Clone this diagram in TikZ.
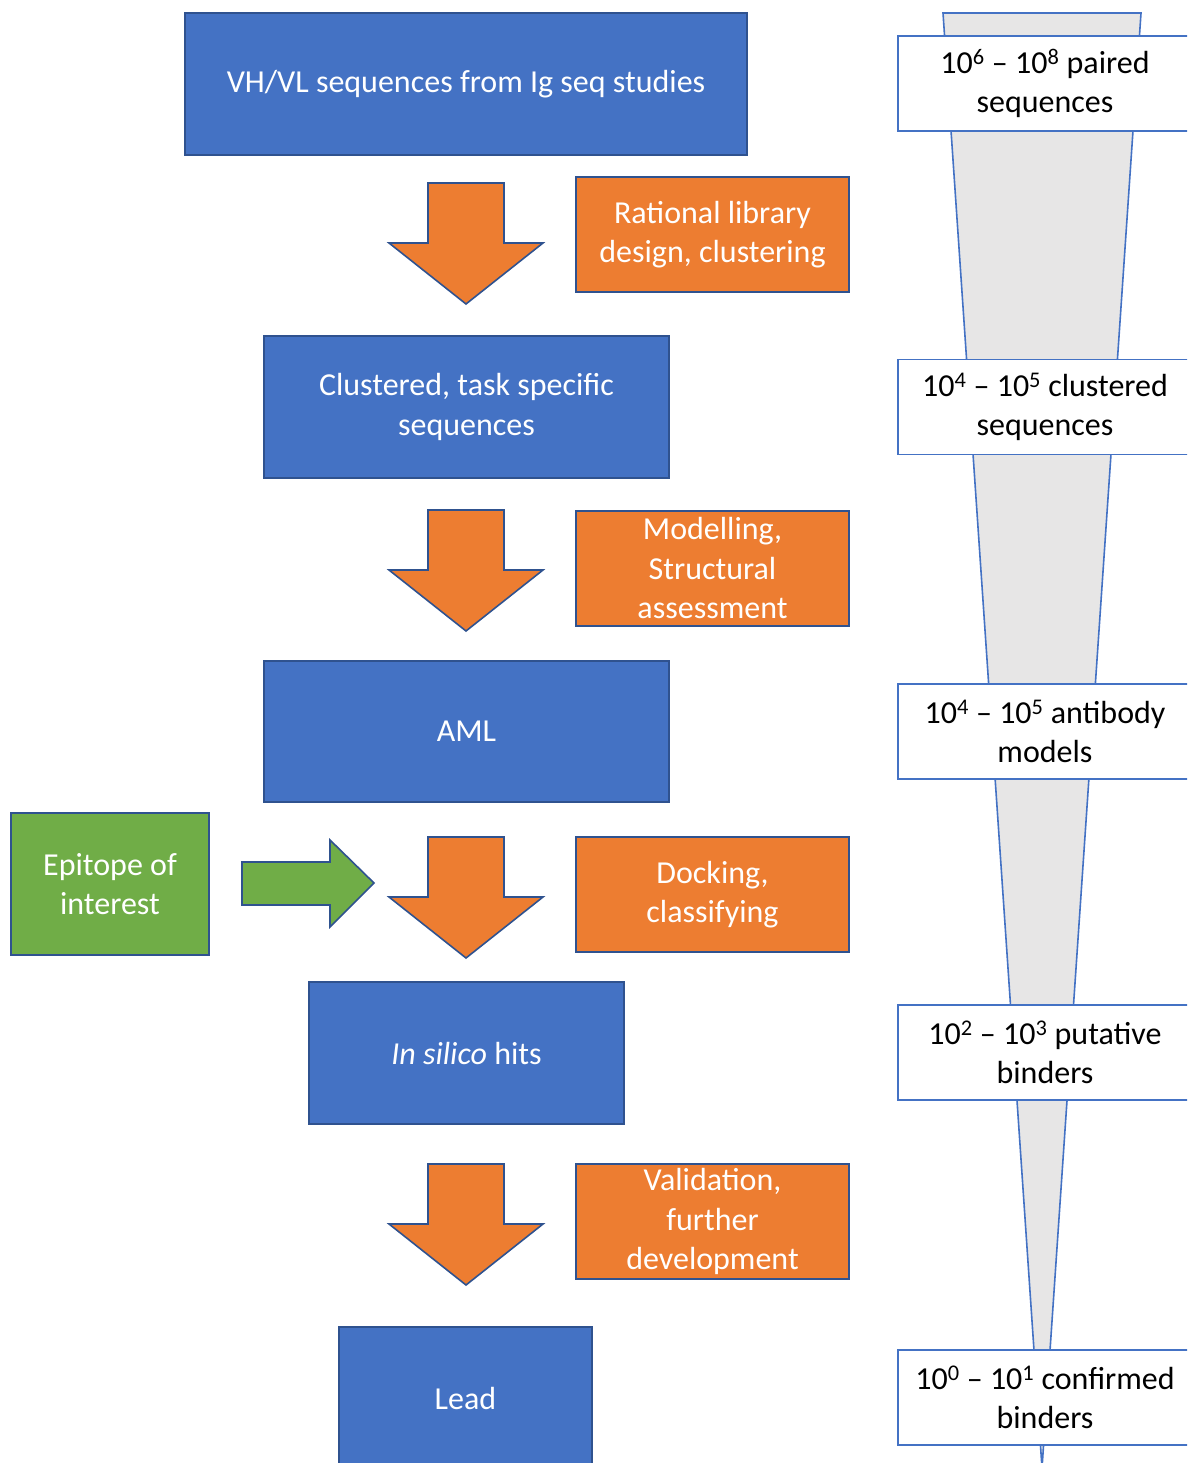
\documentclass[tikz,border=0pt]{standalone}
\usepackage{fontspec}
\setmainfont{Carlito}
\definecolor{boxblue}{HTML}{4472C4}
\definecolor{edgeblue}{HTML}{2F528F}
\definecolor{steporange}{HTML}{ED7D31}
\definecolor{leafgreen}{HTML}{70AD47}
\definecolor{funnelgrey}{HTML}{E7E6E6}
\begin{document}
\begin{tikzpicture}[x=1pt,y=-1pt,
  every node/.style={font=\fontsize{32}{39.5}\selectfont, align=center, inner sep=0pt},
  stagebox/.style={fill=boxblue, draw=edgeblue, line width=1.6pt, text=white},
  actionbox/.style={fill=steporange, draw=edgeblue, line width=1.6pt, text=white},
  inputbox/.style={fill=leafgreen, draw=edgeblue, line width=1.6pt, text=white},
  countbox/.style={fill=white, draw=boxblue, line width=1.6pt, text=black,
    minimum width=294pt, minimum height=95pt},
  darrow/.pic={
    \filldraw[fill=steporange, draw=edgeblue, line width=1.6pt]
      (-38,0) -- (38,0) -- (38,60) -- (77,60) -- (0,121) -- (-77,60) -- (-38,60) -- cycle;
  }
]
\clip (0,0) rectangle (1187,1463);

% funnel behind the count labels
\filldraw[fill=funnelgrey, draw=boxblue, line width=1.6pt]
  (943,13) -- (1141,13) -- (1042,1468) -- cycle;

% main pipeline stages
\node[stagebox, minimum width=562pt, minimum height=142pt] (seqs) at (466,84)
  {VH/VL sequences from Ig seq studies};
\node[stagebox, minimum width=405pt, minimum height=142pt] (clustered) at (466.5,407)
  {Clustered, task specific\\sequences};
\node[stagebox, minimum width=405pt, minimum height=141pt] (aml) at (466.5,731.5)
  {AML};
\node[stagebox, minimum width=315pt, minimum height=142pt] (hits) at (466.5,1053)
  {\textit{In silico} hits};
\node[stagebox, minimum width=253pt, minimum height=142pt] (lead) at (465.5,1398)
  {Lead};

% processing steps
\node[actionbox, minimum width=273pt, minimum height=115pt] (design) at (712.5,234.5)
  {Rational library\\design, clustering};
\node[actionbox, minimum width=273pt, minimum height=115pt] (modelling) at (712.5,568.5)
  {Modelling,\\Structural\\assessment};
\node[actionbox, minimum width=273pt, minimum height=115pt] (docking) at (712.5,894.5)
  {Docking,\\classifying};
\node[actionbox, minimum width=273pt, minimum height=115pt] (validation) at (712.5,1221.5)
  {Validation,\\further\\development};

% block arrows between stages
\pic at (466,183) {darrow};
\pic at (466,510) {darrow};
\pic at (466,837) {darrow};
\pic at (466,1164) {darrow};

% epitope input
\node[inputbox, minimum width=198pt, minimum height=142pt] (epitope) at (110,884)
  {Epitope of\\interest};
\filldraw[fill=leafgreen, draw=edgeblue, line width=1.6pt]
  (242,862) -- (330,862) -- (330,840) -- (374,883) -- (330,927) -- (330,905) -- (242,905) -- cycle;

% library sizes along the funnel
\node[countbox] (c1) at (1045,83.5)
  {10\textsuperscript{6} – 10\textsuperscript{8} paired\\sequences};
\node[countbox] (c2) at (1045,407)
  {10\textsuperscript{4} – 10\textsuperscript{5} clustered\\sequences};
\node[countbox] (c3) at (1045,731.5)
  {10\textsuperscript{4} – 10\textsuperscript{5} antibody\\models};
\node[countbox] (c4) at (1045,1052.5)
  {10\textsuperscript{2} – 10\textsuperscript{3} putative\\binders};
\node[countbox] (c5) at (1045,1397.5)
  {10\textsuperscript{0} – 10\textsuperscript{1} confirmed\\binders};
\end{tikzpicture}
\end{document}
